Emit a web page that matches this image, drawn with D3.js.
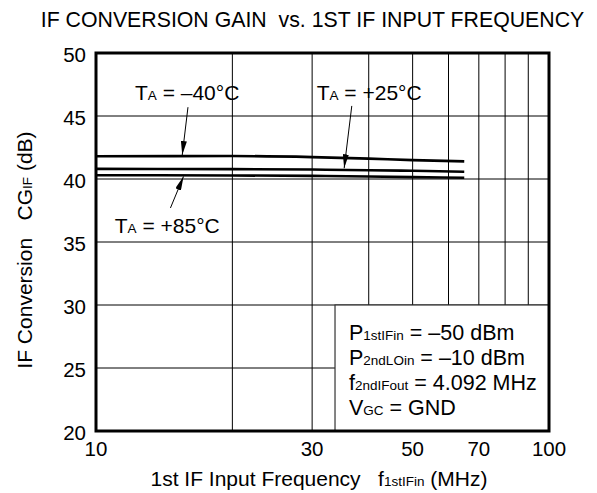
<!DOCTYPE html>
<html>
<head>
<meta charset="utf-8">
<script src="https://cdn.jsdelivr.net/npm/d3@7"></script>
<style>
  body { margin: 0; background: #fff; }
  svg { font-family: "Liberation Sans", Arial, sans-serif; }
</style>
</head>
<body>
<svg id="chart" width="597" height="493"></svg>
<script>
// data
var freqMHz = [10, 20, 30, 40, 50, 65];
var gainM40 = [41.8, 41.82, 41.74, 41.62, 41.5, 41.4];
var gainP25 = [40.8, 40.78, 40.75, 40.7, 40.65, 40.58];
var gainP85 = [40.3, 40.28, 40.25, 40.2, 40.15, 40.1];

var xTicks = [10, 30, 50, 70, 100];
var xGrid = [20, 30, 40, 50, 60, 70, 80, 90];
var yTicks = [20, 25, 30, 35, 40, 45, 50];

var svg = d3.select('#chart');

var x = d3.scaleLog().domain([10, 100]).range([96, 549]);
var y = d3.scaleLinear().domain([20, 50]).range([431, 53]);

// title
svg.append('text')
    .attr('x', 312.5).attr('y', 27)
    .attr('text-anchor', 'middle')
    .attr('font-size', 21.3)
    .text('IF CONVERSION GAIN\u00a0\u00a0vs. 1ST IF INPUT FREQUENCY');

// grid
svg.append('g').selectAll('line').data(xGrid).join('line')
    .attr('x1', d => x(d)).attr('x2', d => x(d))
    .attr('y1', y(20)).attr('y2', y(50))
    .attr('stroke', '#000').attr('stroke-width', 1);
svg.append('g').selectAll('line').data(yTicks.slice(1, -1)).join('line')
    .attr('x1', x(10)).attr('x2', x(100))
    .attr('y1', d => y(d)).attr('y2', d => y(d))
    .attr('stroke', '#000').attr('stroke-width', 1);

// conditions box
var box = svg.append('g');
box.append('rect')
    .attr('x', x(33.7)).attr('y', y(30))
    .attr('width', x(100) - x(33.7)).attr('height', y(20) - y(30))
    .attr('fill', '#fff').attr('stroke', '#333').attr('stroke-width', 1.2);

var boxLines = [
    [['P', 21.5], ['1stIFin', 13.5], [' = \u201350 dBm', 21.5]],
    [['P', 21.5], ['2ndLOin', 13.5], [' = \u201310 dBm', 21.5]],
    [['f', 21.5], ['2ndIFout', 13.5], [' = 4.092 MHz', 21.5]],
    [['V', 21.5], ['GC', 13.5], [' = GND', 21.5]]
];
boxLines.forEach(function (parts, i) {
    let t = box.append('text')
        .attr('x', 349).attr('y', 340 + i * 25)
        .attr('xml:space', 'preserve');
    parts.forEach(function (p) {
        t.append('tspan').attr('font-size', p[1]).text(p[0]);
    });
});

// curves
var line = d3.line()
    .x(d => x(d[0])).y(d => y(d[1]))
    .curve(d3.curveMonotoneX);
[gainM40, gainP25, gainP85].forEach(function (g) {
    svg.append('path')
        .datum(freqMHz.map((f, i) => [f, g[i]]))
        .attr('d', line)
        .attr('fill', 'none')
        .attr('stroke', '#000')
        .attr('stroke-width', 2.6);
});

// frame
svg.append('rect')
    .attr('x', x(10)).attr('y', y(50))
    .attr('width', x(100) - x(10)).attr('height', y(20) - y(50))
    .attr('fill', 'none').attr('stroke', '#000').attr('stroke-width', 3);

// axes labels
svg.append('g').selectAll('text').data(yTicks).join('text')
    .attr('x', 86).attr('y', d => y(d) + 8.5)
    .attr('text-anchor', 'end')
    .attr('font-size', 20.5)
    .text(d => d);
svg.append('g').selectAll('text').data(xTicks).join('text')
    .attr('x', d => x(d)).attr('y', 456)
    .attr('text-anchor', 'middle')
    .attr('font-size', 20.5)
    .text(d => d);

var xt = svg.append('text')
    .attr('x', 319).attr('y', 486)
    .attr('text-anchor', 'middle')
    .attr('xml:space', 'preserve')
    .attr('font-size', 21);
xt.append('tspan').text('1st IF Input Frequency   f');
xt.append('tspan').attr('font-size', 13.5).text('1stIFin');
xt.append('tspan').text(' (MHz)');

var yt = svg.append('text')
    .attr('transform', 'translate(32,250) rotate(-90)')
    .attr('text-anchor', 'middle')
    .attr('xml:space', 'preserve')
    .attr('font-size', 21);
yt.append('tspan').text('IF Conversion   CG');
yt.append('tspan').attr('font-size', 13.5).text('IF');
yt.append('tspan').text(' (dB)');

// temperature annotations
svg.append('defs').append('marker')
    .attr('id', 'head')
    .attr('viewBox', '0 0 14 6')
    .attr('refX', 14).attr('refY', 3)
    .attr('markerWidth', 14).attr('markerHeight', 6)
    .attr('markerUnits', 'userSpaceOnUse')
    .attr('orient', 'auto')
    .append('path').attr('d', 'M0,0L14,3L0,6Z').attr('fill', '#000');

var notes = [
    { temp: '\u201340\u00b0C', tx: 12.19, ty: 46.27, from: [15.96, 45.7], to: [15.5, 41.9] },
    { temp: '+25\u00b0C',      tx: 30.7, ty: 46.27, from: [36.7, 45.8], to: [35.3, 40.85] },
    { temp: '+85\u00b0C',      tx: 11.0, ty: 35.71, from: [14.6, 37.7], to: [15.6, 40.2] }
];
notes.forEach(function (n) {
    let t = svg.append('text')
        .attr('x', x(n.tx)).attr('y', y(n.ty))
        .attr('font-size', 21);
    t.append('tspan').text('T');
    t.append('tspan').attr('font-size', 13.5).text('A');
    t.append('tspan').text(' = ' + n.temp);
    svg.append('line')
        .attr('x1', x(n.from[0])).attr('y1', y(n.from[1]))
        .attr('x2', x(n.to[0])).attr('y2', y(n.to[1]))
        .attr('stroke', '#000').attr('stroke-width', 1)
        .attr('marker-end', 'url(#head)');
});
</script>
</body>
</html>
